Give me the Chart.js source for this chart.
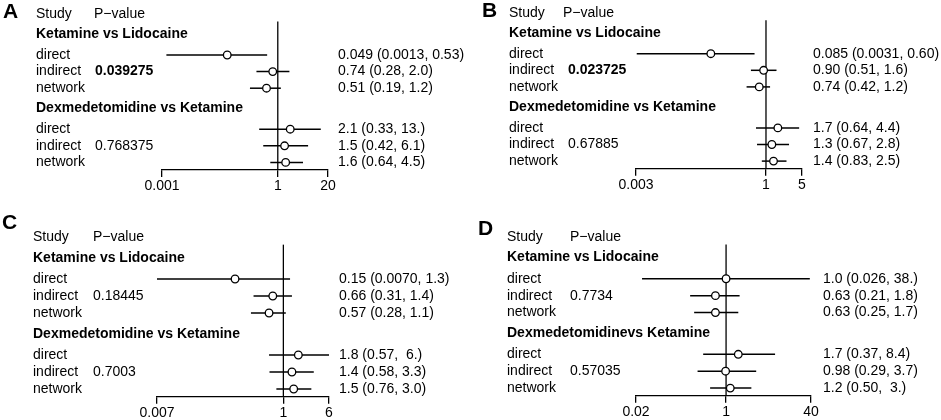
<!DOCTYPE html>
<html>
<head>
<meta charset="utf-8">
<script src="https://cdn.jsdelivr.net/npm/chart.js@4.4.1/dist/chart.umd.min.js"></script>
<style>
  html, body { margin: 0; padding: 0; background: #fff; }
  #wrap { position: relative; width: 941px; height: 420px; }
  #wrap canvas { position: absolute; }
</style>
</head>
<body>
<div id="wrap"></div>
<script>
// Forest plots of direct / indirect / network estimates, four panels A-D

const panelLetters = ['A', 'B', 'C', 'D'];
const methods = ['direct', 'indirect', 'network'];
const groupLabels = [
    ['Ketamine vs Lidocaine', 'Dexmedetomidine vs Ketamine'],
    ['Ketamine vs Lidocaine', 'Dexmedetomidine vs Ketamine'],
    ['Ketamine vs Lidocaine', 'Dexmedetomidine vs Ketamine'],
    ['Ketamine vs Lidocaine', 'Dexmedetomidinevs Ketamine']
];
const pValues = [
    ['0.039275', '0.768375'],
    ['0.023725', '0.67885'],
    ['0.18445', '0.7003'],
    ['0.7734', '0.57035']
];
// per panel: direct, indirect, network for group 1 then group 2
const estimates = [
    [0.049, 0.74, 0.51, 2.1, 1.5, 1.6],
    [0.085, 0.90, 0.74, 1.7, 1.3, 1.4],
    [0.15, 0.66, 0.57, 1.8, 1.4, 1.5],
    [1.0, 0.63, 0.63, 1.7, 0.98, 1.2]
];
const lowerCI = [
    [0.0013, 0.28, 0.19, 0.33, 0.42, 0.64],
    [0.0031, 0.51, 0.42, 0.64, 0.67, 0.83],
    [0.0070, 0.31, 0.28, 0.57, 0.58, 0.76],
    [0.026, 0.21, 0.25, 0.37, 0.29, 0.50]
];
const upperCI = [
    [0.53, 2.0, 1.2, 13, 6.1, 4.5],
    [0.60, 1.6, 1.2, 4.4, 2.8, 2.5],
    [1.3, 1.4, 1.1, 6, 3.3, 3.0],
    [38, 1.8, 1.7, 8.4, 3.7, 3]
];
const estimateLabels = [
    ['0.049 (0.0013, 0.53)', '0.74 (0.28, 2.0)', '0.51 (0.19, 1.2)', '2.1 (0.33, 13.)', '1.5 (0.42, 6.1)', '1.6 (0.64, 4.5)'],
    ['0.085 (0.0031, 0.60)', '0.90 (0.51, 1.6)', '0.74 (0.42, 1.2)', '1.7 (0.64, 4.4)', '1.3 (0.67, 2.8)', '1.4 (0.83, 2.5)'],
    ['0.15 (0.0070, 1.3)', '0.66 (0.31, 1.4)', '0.57 (0.28, 1.1)', '1.8 (0.57,  6.)', '1.4 (0.58, 3.3)', '1.5 (0.76, 3.0)'],
    ['1.0 (0.026, 38.)', '0.63 (0.21, 1.8)', '0.63 (0.25, 1.7)', '1.7 (0.37, 8.4)', '0.98 (0.29, 3.7)', '1.2 (0.50,  3.)']
];
const axisTicks = [
    [0.001, 1, 20],
    [0.003, 1, 5],
    [0.007, 1, 6],
    [0.02, 1, 40]
];
const axisTickLabels = [
    ['0.001', '1', '20'],
    ['0.003', '1', '5'],
    ['0.007', '1', '6'],
    ['0.02', '1', '40']
];

// Layout of each panel, in pixels inside its own canvas
const panelLayout = [
    { left: 0,   top: 0,   w: 470, h: 210, letterX: 3,  letterY: 12.5, colX: 36, pHeadX: 94,  pX: 95,  rightX: 338, headY: 14,   unit: 16.6, minPx: 162, maxPx: 328 },
    { left: 470, top: 0,   w: 471, h: 210, letterX: 12, letterY: 11,   colX: 39, pHeadX: 93,  pX: 98,  rightX: 343, headY: 12.7, unit: 16.6, minPx: 166, maxPx: 332 },
    { left: 0,   top: 210, w: 470, h: 210, letterX: 2,  letterY: 13.5, colX: 33, pHeadX: 93,  pX: 93,  rightX: 339, headY: 27,   unit: 17,   minPx: 157, maxPx: 329 },
    { left: 470, top: 210, w: 471, h: 210, letterX: 8,  letterY: 19,   colX: 37, pHeadX: 100, pX: 100, rightX: 353, headY: 27,   unit: 16.9, minPx: 166, maxPx: 341 }
];

// row positions (in row units, header row = 0)
const GROUP_ROW = [1.22, 5.69];
const FIRST_ROW = [2.47, 6.94];
const LINE_TOP_ROW = 0.45;
const AXIS_ROW = 9.4;

const FONT = '"Liberation Sans", Arial, Helvetica, sans-serif';
const TICK_LEN = 7;
const TICK_PAD = 1;
const FONT_SIZE = 14;

function rowOf(k) {
    const g = Math.floor(k / 3);
    return FIRST_ROW[g] + (k % 3);
}

const refLinePlugin = {
    id: 'refLine',
    beforeDatasetsDraw: function (chart) {
        const ctx = chart.ctx;
        const x = chart.scales.x.getPixelForValue(1);
        const area = chart.chartArea;
        ctx.save();
        ctx.strokeStyle = '#000';
        ctx.lineWidth = 1.3;
        ctx.beginPath();
        ctx.moveTo(x, area.top);
        ctx.lineTo(x, area.bottom);
        ctx.stroke();
        ctx.restore();
    }
};

const textPlugin = {
    id: 'forestText',
    afterDraw: function (chart) {
        const i = chart.options.plugins.forestText.panel;
        const L = panelLayout[i];
        const ctx = chart.ctx;
        const yScale = chart.scales.y;
        const yPx = function (r) { return yScale.getPixelForValue(r); };

        ctx.save();
        ctx.fillStyle = '#000';
        ctx.textAlign = 'left';
        ctx.textBaseline = 'middle';

        ctx.font = 'bold 21px ' + FONT;
        ctx.fillText(panelLetters[i], L.letterX, L.letterY);

        ctx.font = FONT_SIZE + 'px ' + FONT;
        ctx.fillText('Study', L.colX, yPx(0));
        ctx.fillText('P\u2212value', L.pHeadX, yPx(0));

        for (let g = 0; g < 2; g++) {
            ctx.font = 'bold ' + FONT_SIZE + 'px ' + FONT;
            ctx.fillText(groupLabels[i][g], L.colX, yPx(GROUP_ROW[g]));

            for (let m = 0; m < 3; m++) {
                const k = g * 3 + m;
                const y = yPx(rowOf(k));
                ctx.font = FONT_SIZE + 'px ' + FONT;
                ctx.fillText(methods[m], L.colX, y);
                ctx.fillText(estimateLabels[i][k], L.rightX, y);
                if (m === 1) {
                    const p = pValues[i][g];
                    ctx.font = (Number(p) < 0.05 ? 'bold ' : '') + FONT_SIZE + 'px ' + FONT;
                    ctx.fillText(p, L.pX, y);
                }
            }
        }
        ctx.restore();
    }
};

const wrap = document.getElementById('wrap');

panelLayout.forEach(function (L, i) {
    const canvas = document.createElement('canvas');
    canvas.width = L.w;
    canvas.height = L.h;
    canvas.style.left = L.left + 'px';
    canvas.style.top = L.top + 'px';
    canvas.style.width = L.w + 'px';
    canvas.style.height = L.h + 'px';
    wrap.appendChild(canvas);

    const topPx = L.headY + LINE_TOP_ROW * L.unit;
    const bottomPx = L.headY + AXIS_ROW * L.unit;
    const axisH = TICK_LEN + FONT_SIZE * 1.2 + TICK_PAD * 2;

    const ciSets = estimates[i].map(function (v, k) {
        return {
            type: 'line',
            data: [{ x: lowerCI[i][k], y: rowOf(k) }, { x: upperCI[i][k], y: rowOf(k) }],
            borderColor: '#000',
            borderWidth: 1.5,
            pointRadius: 0,
            fill: false,
            clip: false,
            order: 1
        };
    });

    const pointSet = {
        type: 'scatter',
        data: estimates[i].map(function (v, k) { return { x: v, y: rowOf(k) }; }),
        pointRadius: 3.8,
        pointStyle: 'circle',
        pointBackgroundColor: '#fff',
        pointBorderColor: '#000',
        pointBorderWidth: 1.3,
        clip: false,
        order: 0
    };

    new Chart(canvas.getContext('2d'), {
        type: 'scatter',
        data: { datasets: [pointSet].concat(ciSets) },
        options: {
            responsive: false,
            animation: false,
            events: [],
            devicePixelRatio: 1,
            layout: {
                padding: {
                    left: L.minPx,
                    right: L.w - L.maxPx,
                    top: topPx,
                    bottom: L.h - bottomPx - axisH
                }
            },
            scales: {
                x: {
                    type: 'logarithmic',
                    position: 'bottom',
                    min: axisTicks[i][0],
                    max: axisTicks[i][2],
                    afterBuildTicks: function (scale) {
                        scale.ticks = axisTicks[i].map(function (v) { return { value: v }; });
                    },
                    ticks: {
                        autoSkip: false,
                        maxRotation: 0,
                        padding: TICK_PAD,
                        color: '#000',
                        font: { family: FONT, size: FONT_SIZE },
                        callback: function (value, index) { return axisTickLabels[i][index]; }
                    },
                    grid: {
                        drawOnChartArea: false,
                        drawTicks: true,
                        tickLength: TICK_LEN,
                        color: '#000',
                        lineWidth: 1.3
                    },
                    border: { display: true, color: '#000', width: 1.3 }
                },
                y: {
                    type: 'linear',
                    reverse: true,
                    min: LINE_TOP_ROW,
                    max: AXIS_ROW,
                    display: false
                }
            },
            plugins: {
                legend: { display: false },
                tooltip: { enabled: false },
                forestText: { panel: i }
            }
        },
        plugins: [refLinePlugin, textPlugin]
    });
});
</script>
</body>
</html>
